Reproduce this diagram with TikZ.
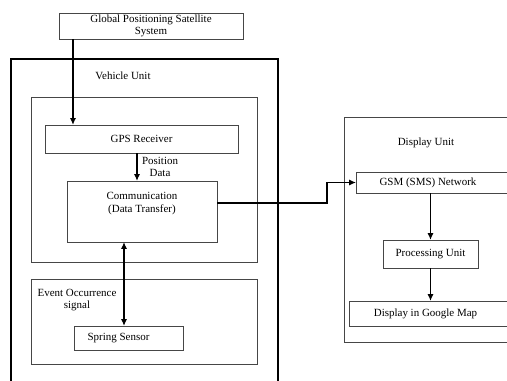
\documentclass[tikz,border=0pt]{standalone}
\usepackage{fontspec}
\setmainfont{Liberation Serif}
\usepackage{tikz}
\usetikzlibrary{arrows.meta, positioning, calc}
\definecolor{cLine}{RGB}{70,70,70}
\tikzset{
    block/.style   ={rectangle, draw=cLine, line width=0.6pt, inner sep=0pt, outer sep=0pt, text centered, align=center, font=\fontsize{7.8}{9}\selectfont},
    frame/.style   ={draw=cLine, line width=0.6pt},
    caption/.style ={align=center, inner sep=0pt, font=\fontsize{7.8}{9}\selectfont},
    flowarrow/.style={-{Latex[length=1.7mm, width=1.5mm]}, line width=1.2pt},
    dualarrow/.style={{Latex[length=1.7mm, width=1.5mm]}-{Latex[length=1.7mm, width=1.5mm]}, line width=1.2pt},
}

\begin{document}
\begin{tikzpicture}[x=0.025cm, y=-0.025cm]
        \useasboundingbox (0,0) rectangle (507,381);
        \clip (0,0) rectangle (507,381);
        % containers
        \draw[line width=1.1pt] (11,395) -- (11,59) -- (278,59) -- (278,395);
        \draw[frame] (31,97) rectangle (257,262);
        \draw[frame] (31,279) rectangle (257,364);
        \draw[frame] (344,117) rectangle (515,342);
        \node[caption] (vlabel) at (123,76)  {Vehicle Unit};
        \node[caption] (elabel) at (77,300)  {Event Occurrence\\signal};
        \node[caption] (dlabel) at (426,143) {Display Unit};
        % blocks
        \node[block, minimum width=4.6cm,   minimum height=0.65cm]  (gps)    at (151,26)    {Global Positioning Satellite\\System};
        \node[block, minimum width=4.825cm, minimum height=0.7cm]   (rcv)    at (141.5,139) {GPS Receiver};
        \node[block, minimum width=3.75cm,  minimum height=1.525cm] (comm)   at (142,211.5) {Communication\\(Data Transfer)\\[4pt]};
        \node[block, minimum width=2.725cm, minimum height=0.6cm]   (spring) at (128.5,338) {Spring Sensor\hspace{5mm}};
        \node[block, minimum width=3.8cm,   minimum height=0.525cm] (gsm)    at (432,182.5) {GSM (SMS) Network\hspace{2mm}};
        \node[block, minimum width=2.375cm, minimum height=0.7cm]   (proc)   at (430.5,254) {Processing Unit};
        \node[block, minimum width=4.025cm, minimum height=0.625cm] (gmap)   at (429.5,313.5) {Display in Google Map\hspace{2mm}};
        % connectors
        \path (rcv.north west) ++(28,0) coordinate (rcvin);
        \path (spring.north) ++(-4.5,0) coordinate (sensin);
        \draw[flowarrow] (gps.south -| rcvin) -- (rcvin);
        \draw[flowarrow] ([xshift=-3.2pt]rcv.south) -- ([xshift=-3.2pt]rcv.south |- comm.north)
            node[midway, right, caption, xshift=3pt] (poslabel) {Position\\Data};
        \draw[line width=0.9pt, -{Latex[length=1.7mm, width=1.5mm]}] ($(comm.east)+(0,-8.5)$) -- ++(110,0) |- (gsm.west);
        \draw[dualarrow] (comm.south -| sensin) -- (sensin);
        \draw[flowarrow] (proc.north |- gsm.south) -- (proc.north);
        \draw[flowarrow] (proc.south) -- (proc.south |- gmap.north);
    \end{tikzpicture}
\end{document}
